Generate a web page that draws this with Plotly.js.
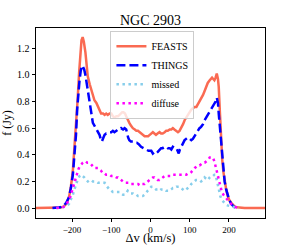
<!DOCTYPE html>
<html>
<head>
<meta charset="utf-8">
<script src="https://cdn.plot.ly/plotly-3.0.1.min.js"></script>
<style>html,body{margin:0;padding:0;background:#fff;}#chart{width:294px;height:245px;}</style>
</head>
<body>
<div id="chart"></div>
<script>
const titleText = "NGC 2903";
const xTitle = "Δv (km/s)";
const yTitle = "f (Jy)";

const feastsV = [-300,-240,-230,-222,-215,-208,-203,-198,-194,-190,-186,-182,-179,-176,-173,-170,-166,-163,-160,-155,-151,-147,-143,-138,-134,-130,-126,-121,-117,-113,-109,-104,-100,-96,-92,-87,-83,-79,-75,-72,-69,-65,-62,-58,-54,-50,-45,-40,-36,-32,-27,-23,-20,-15,-11,-6,-2,2,6,10,14,18,23,27,31,36,40,44,49,53,57,61,66,70,74,78,83,87,91,96,100,104,108,113,117,121,125,130,134,138,142,146,151,155,157,160,163,166,169,172,174,177,179,181,183,186,189,193,197,201,206,210,214,220,227,240,300];
const feastsF = [0,0,0.003,0.01,0.03,0.08,0.16,0.28,0.44,0.62,0.81,1.02,1.19,1.26,1.285,1.25,1.17,1.08,0.99,0.93,0.89,0.85,0.81,0.79,0.76,0.74,0.71,0.71,0.70,0.71,0.70,0.71,0.71,0.69,0.68,0.69,0.69,0.70,0.71,0.72,0.72,0.71,0.69,0.66,0.64,0.62,0.60,0.59,0.58,0.58,0.57,0.56,0.55,0.54,0.54,0.54,0.55,0.56,0.57,0.56,0.55,0.56,0.57,0.56,0.56,0.57,0.58,0.58,0.59,0.59,0.60,0.59,0.58,0.57,0.58,0.60,0.63,0.66,0.68,0.71,0.73,0.74,0.75,0.76,0.76,0.78,0.81,0.83,0.85,0.88,0.91,0.94,0.96,0.98,0.98,0.97,0.96,0.98,1.01,0.97,0.91,0.72,0.56,0.45,0.36,0.27,0.20,0.14,0.09,0.06,0.04,0.025,0.012,0.005,0.002,0,0];

const thingsV = [-250,-240,-230,-222,-215,-208,-203,-198,-194,-190,-187,-184,-181,-178,-175,-172,-169,-166,-163,-160,-156,-151,-147,-143,-139,-134,-130,-127,-124,-120,-117,-113,-109,-104,-100,-96,-92,-87,-83,-79,-75,-70,-66,-62,-60,-57,-54,-50,-45,-40,-35,-30,-24,-18,-11,-5,2,6,10,14,18,23,27,31,36,40,44,49,53,57,62,66,70,72,75,78,83,87,91,95,100,104,108,112,117,121,125,129,134,138,142,146,151,155,159,163,166,169,172,174,177,179,181,183,186,189,193,197,201,206,210,214,220];
const thingsF = [0,0.002,0.005,0.015,0.04,0.08,0.15,0.25,0.39,0.55,0.74,0.87,0.96,1.03,1.07,1.06,1.04,1.00,0.94,0.88,0.81,0.71,0.64,0.62,0.60,0.57,0.55,0.52,0.50,0.53,0.55,0.56,0.56,0.57,0.57,0.58,0.57,0.58,0.59,0.59,0.60,0.59,0.60,0.59,0.56,0.53,0.51,0.50,0.50,0.49,0.49,0.48,0.46,0.45,0.44,0.43,0.43,0.41,0.42,0.41,0.42,0.44,0.45,0.45,0.46,0.46,0.45,0.45,0.44,0.46,0.45,0.45,0.42,0.41,0.44,0.46,0.49,0.51,0.52,0.53,0.52,0.51,0.52,0.54,0.56,0.58,0.60,0.61,0.63,0.66,0.68,0.70,0.72,0.74,0.76,0.78,0.80,0.83,0.79,0.71,0.60,0.51,0.43,0.36,0.27,0.20,0.14,0.09,0.06,0.03,0.015,0.007,0.002];

const missedV = [-240,-230,-222,-215,-208,-203,-198,-194,-190,-186,-181,-177,-173,-169,-164,-160,-155,-151,-147,-143,-139,-134,-130,-126,-121,-117,-113,-109,-105,-100,-96,-92,-87,-83,-79,-75,-70,-66,-62,-58,-54,-50,-45,-40,-36,-32,-27,-23,-20,-15,-11,-7,-3,2,6,10,14,18,23,27,31,36,40,44,49,53,57,61,66,70,74,78,83,87,91,96,100,104,108,111,116,121,125,129,134,138,142,146,151,155,159,163,166,169,172,175,178,182,185,189,193,198,202,206,212,219,225];
const missedF = [0,0.003,0.005,0.01,0.03,0.06,0.10,0.14,0.18,0.21,0.24,0.25,0.24,0.23,0.21,0.20,0.21,0.21,0.20,0.20,0.20,0.19,0.19,0.19,0.19,0.19,0.17,0.15,0.14,0.13,0.12,0.12,0.12,0.12,0.12,0.11,0.10,0.10,0.11,0.13,0.12,0.11,0.11,0.10,0.10,0.09,0.09,0.09,0.09,0.10,0.12,0.13,0.14,0.16,0.16,0.15,0.14,0.14,0.13,0.14,0.14,0.14,0.13,0.13,0.13,0.14,0.15,0.15,0.16,0.16,0.16,0.15,0.14,0.13,0.14,0.15,0.16,0.18,0.19,0.20,0.21,0.21,0.21,0.20,0.21,0.23,0.22,0.21,0.23,0.24,0.24,0.25,0.25,0.21,0.16,0.12,0.09,0.06,0.05,0.035,0.025,0.018,0.015,0.012,0.006,0.002,0];

const diffuseV = [-240,-230,-222,-215,-210,-205,-201,-197,-193,-188,-184,-181,-177,-173,-169,-165,-161,-157,-152,-147,-143,-139,-134,-130,-126,-121,-117,-113,-109,-104,-100,-96,-92,-87,-83,-79,-75,-71,-66,-62,-58,-54,-50,-45,-40,-36,-32,-27,-23,-20,-15,-11,-7,-3,2,6,10,14,18,23,27,31,36,40,44,49,53,57,61,66,70,74,78,83,87,91,96,100,104,108,112,117,121,125,130,134,138,142,146,151,155,159,163,166,169,172,175,178,182,186,191,196,201,206,212,219,225];
const diffuseF = [0,0.003,0.008,0.025,0.05,0.08,0.12,0.16,0.21,0.25,0.29,0.31,0.33,0.34,0.35,0.35,0.34,0.34,0.33,0.31,0.30,0.30,0.30,0.29,0.28,0.26,0.26,0.25,0.25,0.25,0.24,0.24,0.24,0.23,0.23,0.22,0.21,0.20,0.19,0.19,0.19,0.19,0.18,0.18,0.18,0.18,0.18,0.17,0.18,0.18,0.18,0.19,0.20,0.21,0.22,0.23,0.23,0.22,0.21,0.21,0.22,0.23,0.24,0.24,0.24,0.24,0.24,0.25,0.25,0.25,0.25,0.25,0.25,0.25,0.25,0.25,0.26,0.26,0.27,0.29,0.30,0.31,0.32,0.32,0.33,0.34,0.34,0.35,0.36,0.38,0.38,0.38,0.35,0.31,0.27,0.23,0.19,0.15,0.12,0.10,0.08,0.06,0.045,0.03,0.015,0.005,0];

const xTicks = [-200,-100,0,100,200];
const yTicks = [0,0.2,0.4,0.6,0.8,1.0,1.2];

const font = "Liberation Serif, Times New Roman, serif";

const traces = [
  {x: feastsV, y: feastsF, name: "FEASTS", mode: "lines", line: {color: "#FA6A52", width: 2.5}},
  {x: thingsV, y: thingsF, name: "THINGS", mode: "lines", line: {color: "#0000FF", width: 2.5, dash: "9px,4px"}},
  {x: missedV, y: missedF, name: "missed", mode: "lines", line: {color: "#87CEEB", width: 2.5, dash: "2.5px,3.5px"}},
  {x: diffuseV, y: diffuseF, name: "diffuse", mode: "lines", line: {color: "#FF00FF", width: 2.5, dash: "2.5px,3.5px"}}
];

const layout = {
  width: 294, height: 245,
  margin: {l: 36, r: 29, t: 28, b: 27},
  paper_bgcolor: "#fff", plot_bgcolor: "#fff",
  font: {family: font, size: 10, color: "#000"},
  title: {text: titleText, font: {family: font, size: 14, color: "#000"}, x: 0.5, xref: "paper", xanchor: "center", y: 1 - 20/245, yanchor: "middle"},
  xaxis: {
    range: [-292, 292], tickvals: xTicks, ticks: "outside", ticklen: 3, tickwidth: 1, tickcolor: "#000",
    showline: true, mirror: true, linecolor: "#000", linewidth: 1, showgrid: false, zeroline: false,
    title: {text: xTitle, font: {family: font, size: 12.5}}, tickfont: {size: 9}, automargin: false
  },
  yaxis: {
    range: [-0.075, 1.353], tickvals: yTicks, tickformat: ".1f", ticks: "outside", ticklen: 3.5, tickwidth: 1, tickcolor: "#000",
    showline: true, mirror: true, linecolor: "#000", linewidth: 1, showgrid: false, zeroline: false,
    title: {text: yTitle, font: {family: font, size: 12}}, tickfont: {size: 10}, automargin: false
  },
  showlegend: true,
  legend: {x: 0.325, y: 0.985, xanchor: "left", yanchor: "top", bgcolor: "rgba(255,255,255,0.8)", bordercolor: "#ccc", borderwidth: 1, font: {family: font, size: 10}, itemwidth: 30, tracegroupgap: 0}
};

Plotly.newPlot("chart", traces, layout, {staticPlot: true, displayModeBar: false});
</script>
</body>
</html>
